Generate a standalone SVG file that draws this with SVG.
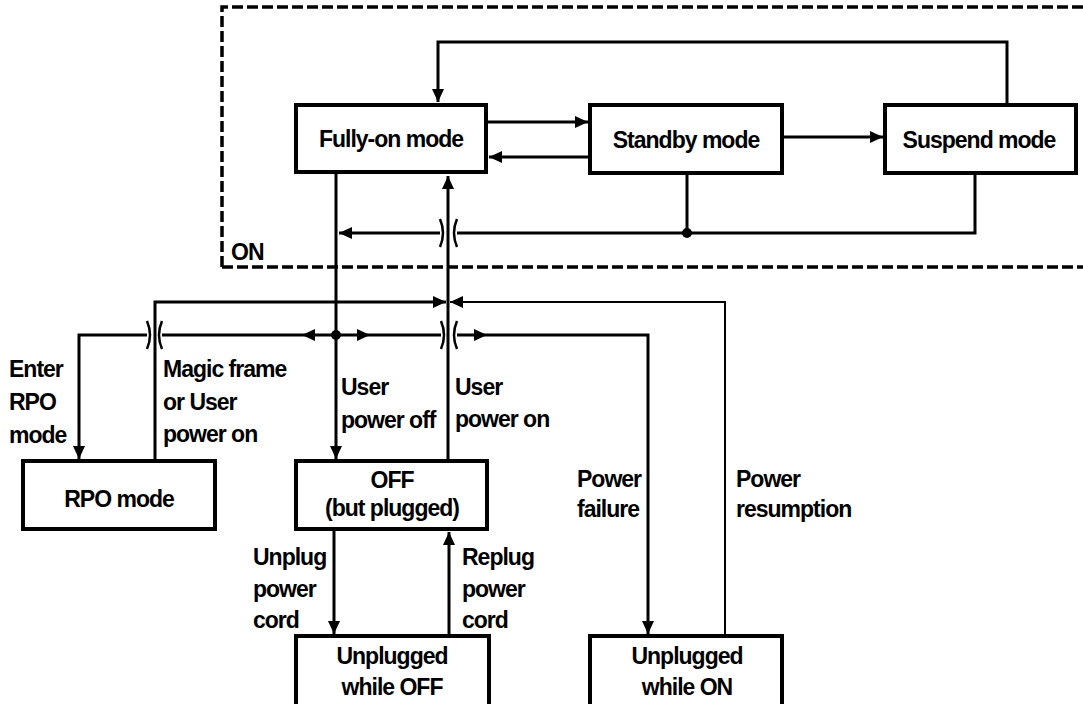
<svg xmlns="http://www.w3.org/2000/svg" width="1083" height="704" viewBox="0 0 1083 704">
<style>
.box{fill:#fff;stroke:#000;stroke-width:4}
.t{font-family:"Liberation Sans",Arial,sans-serif;font-weight:bold;font-size:23px;letter-spacing:-1px;fill:#000}
.c{text-anchor:middle}
.ln{fill:none;stroke:#000;stroke-width:3}
.thin{stroke-width:2}
.hop{fill:none;stroke:#000;stroke-width:2.5}
.ah{fill:#000;stroke:none}
</style>
<defs>
<marker id="arr" markerUnits="userSpaceOnUse" markerWidth="14" markerHeight="14" viewBox="0 0 14 14" refX="13" refY="7" orient="auto">
<path d="M0,1 L13,7 L0,13 Z" fill="#000"/>
</marker>
</defs>
<rect width="1083" height="704" fill="#fff"/>
<g id="on-region">
<path d="M222,267 V7 H1090 M222,267 H1090" fill="none" stroke="#000" stroke-width="3.5" stroke-dasharray="11 4"/>
<text class="t" x="231" y="260">ON</text>
</g>
<g id="connectors">
<path class="ln" d="M1007,103 V42 H438 V102" marker-end="url(#arr)"/>
<path class="ln" d="M488,122 H588" marker-end="url(#arr)"/>
<path class="ln" d="M589,157 H489" marker-end="url(#arr)"/>
<path class="ln" d="M783,137 H883" marker-end="url(#arr)"/>
<path class="ln" d="M687,174 V233"/>
<path class="ln" d="M975,175 V233 H457"/>
<path class="ln" d="M440,233 H339" marker-end="url(#arr)"/>
<path class="hop" d="M440,219 Q446,233 440,247 M457,219 Q451,233 457,247"/>
<circle cx="687" cy="233" r="5" fill="#000"/>
<path class="ln" d="M336,174 V459" marker-end="url(#arr)"/>
<path class="ln" d="M448,460 V176" marker-end="url(#arr)"/>
<path class="ln" d="M155,460 V302 H446" marker-end="url(#arr)"/>
<path class="ln thin" d="M725,635 V302 H450" marker-end="url(#arr)"/>
<path class="ln" d="M336,335 H162"/>
<path class="ln" d="M147,335 H79 V459" marker-end="url(#arr)"/>
<path class="hop" d="M147,321 Q153,335 147,349 M162,321 Q156,335 162,349"/>
<path class="ln" d="M336,335 H441"/>
<path class="ln" d="M457,335 H648 V634" marker-end="url(#arr)"/>
<path class="hop" d="M441,321 Q447,335 441,349 M457,321 Q451,335 457,349"/>
<circle cx="336" cy="335" r="5" fill="#000"/>
<path class="ah" d="M302,335 L315,329 L315,341 Z"/>
<path class="ah" d="M370,335 L357,329 L357,341 Z"/>
<path class="ah" d="M487,335 L474,329 L474,341 Z"/>
<path class="ln" d="M334,530 V634" marker-end="url(#arr)"/>
<path class="ln" d="M449,636 V532" marker-end="url(#arr)"/>
</g>
<g id="labels">
<text class="t" x="9" y="377">Enter</text>
<text class="t" x="9" y="410">RPO</text>
<text class="t" x="9" y="443">mode</text>
<text class="t" x="163" y="377">Magic frame</text>
<text class="t" x="163" y="410">or User</text>
<text class="t" x="163" y="442">power on</text>
<text class="t" x="341" y="395">User</text>
<text class="t" x="341" y="428">power off</text>
<text class="t" x="455" y="395">User</text>
<text class="t" x="455" y="427">power on</text>
<text class="t" x="577" y="487">Power</text>
<text class="t" x="577" y="517">failure</text>
<text class="t" x="736" y="487">Power</text>
<text class="t" x="736" y="517">resumption</text>
<text class="t" x="253" y="565">Unplug</text>
<text class="t" x="253" y="597">power</text>
<text class="t" x="253" y="628">cord</text>
<text class="t" x="462" y="565">Replug</text>
<text class="t" x="462" y="597">power</text>
<text class="t" x="462" y="628">cord</text>
</g>
<g id="fully-on">
<rect class="box" x="296" y="105" width="190" height="67"/>
<text class="t c" x="391" y="147">Fully-on mode</text>
</g>
<g id="standby">
<rect class="box" x="590" y="105" width="192" height="68"/>
<text class="t c" x="686" y="148">Standby mode</text>
</g>
<g id="suspend">
<rect class="box" x="885" y="105" width="191" height="68"/>
<text class="t c" x="979" y="148">Suspend mode</text>
</g>
<g id="rpo">
<rect class="box" x="23" y="461" width="192" height="68"/>
<text class="t c" x="119" y="507">RPO mode</text>
</g>
<g id="off">
<rect class="box" x="296" y="461" width="191" height="68"/>
<text class="t c" x="392" y="488">OFF</text>
<text class="t c" x="392" y="516">(but plugged)</text>
</g>
<g id="unplugged-off">
<rect class="box" x="296" y="636" width="193" height="100"/>
<text class="t c" x="392" y="664">Unplugged</text>
<text class="t c" x="392" y="695">while OFF</text>
</g>
<g id="unplugged-on">
<rect class="box" x="590" y="636" width="192" height="100"/>
<text class="t c" x="687" y="664">Unplugged</text>
<text class="t c" x="687" y="695">while ON</text>
</g>
</svg>
